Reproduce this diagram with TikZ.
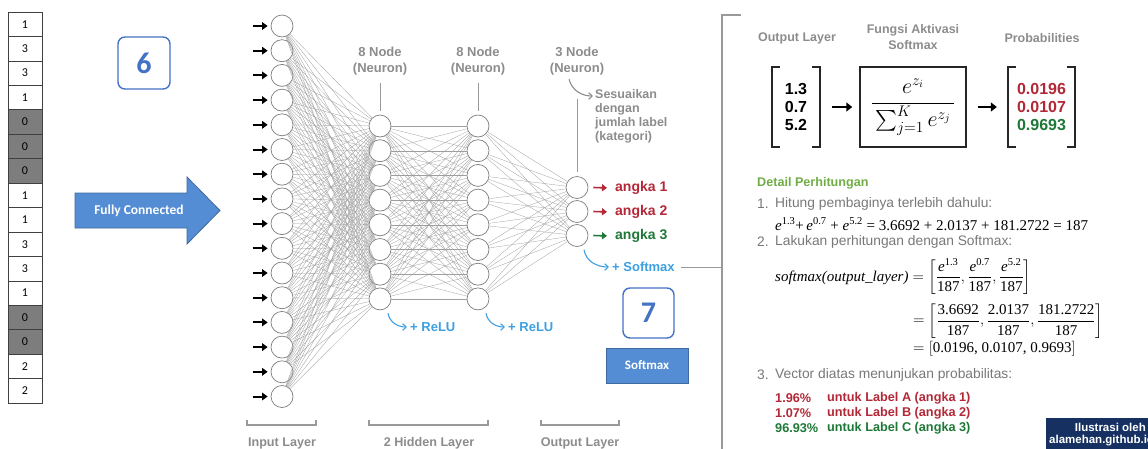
\RequirePackage{fix-cm}
\documentclass[tikz,border=0pt]{standalone}
\usepackage{amsmath}
\usepackage{fontspec}
\setmainfont{Liberation Sans}
\newfontfamily\carl{Carlito}
\newfontfamily\tms{Liberation Serif}
\usetikzlibrary{arrows.meta,calc}
\newcommand{\fsz}[1]{\fontsize{#1}{#1}\selectfont}
\newcommand{\tE}[1]{\text{\tms\itshape e}^{\text{\tms #1}}}
\newcommand{\tN}[1]{\text{\tms #1}}
\definecolor{gtx}{RGB}{140,140,140}
\definecolor{ltx}{RGB}{120,120,120}
\definecolor{nodec}{RGB}{125,125,125}
\definecolor{rd}{RGB}{178,40,55}
\definecolor{gr}{RGB}{30,120,55}
\definecolor{lb}{RGB}{60,160,225}
\definecolor{bboxc}{RGB}{68,114,196}
\definecolor{bfill}{RGB}{84,141,212}
\definecolor{dgreen}{RGB}{112,173,71}
\definecolor{navy}{RGB}{22,48,98}
\definecolor{cellgray}{RGB}{125,125,125}
\begin{document}
\begin{tikzpicture}[x=1pt,y=-1pt,
 cell/.style={draw=black!75,line width=0.6pt,minimum width=34pt,minimum height=24.44pt,inner sep=0pt,font=\carl\fsz{12}},
 numbox/.style={draw=bboxc,line width=1.4pt,rounded corners=7pt,text=bboxc,font=\carl\bfseries\fsz{30},inner sep=0pt},
 neuron/.style={circle,draw=nodec,fill=white,line width=0.7pt,minimum size=22pt,inner sep=0pt},
 conn/.style={draw=black!38,line width=0.3pt},
 gline/.style={draw=black!40,line width=0.8pt},
 inarr/.style={-{Triangle[length=5.5pt,width=7.5pt]},line width=2pt,black},
 bluearr/.style={draw=lb,line width=1.1pt,-{Straight Barb[length=3.5pt,width=6.5pt]}},
 grayarr/.style={draw=gtx,line width=1.1pt,-{Straight Barb[length=3.5pt,width=6.5pt]}},
 outarr/.style={line width=1.6pt,-{Triangle[length=5pt,width=7pt]},shorten >=3pt},
 nlbl/.style={text=gtx,font=\bfseries\fsz{13},align=center,inner sep=0pt},
 bluetxt/.style={text=lb,font=\bfseries\fsz{13},anchor=west,inner sep=0pt},
 angk/.style={font=\bfseries\fsz{14},anchor=west,inner sep=0pt},
 botl/.style={text=gtx,font=\bfseries\fsz{12.6},inner sep=0pt},
 hdr/.style={text=gtx,font=\bfseries\fsz{12.5},align=center,inner sep=0pt},
 brk/.style={line width=2.3pt,black!85},
 barr/.style={-{Triangle[length=6pt,width=9pt]},line width=2.4pt,black},
 lst/.style={text=ltx,font=\fsz{13.8},anchor=west,inner sep=0pt},
 res/.style={font=\bfseries\fsz{12.7},anchor=west,inner sep=0pt},
 mval/.style={font=\bfseries\fontsize{16}{18}\selectfont,align=center,minimum width=48pt,minimum height=80pt,inner sep=0pt}
]
\useasboundingbox (0,0) rectangle (1148,448);

% ---- left column of values
\foreach \v [count=\k] in {1,3,3,1,0,0,0,1,1,3,3,1,0,0,2,2}{
  \ifnum\v=0 \def\cf{cellgray}\else\def\cf{white}\fi
  \node[cell,fill=\cf] (c\k) at (25,{12+(\k-0.5)*24.44}) {\v};
}

% ---- box 6
\node[numbox,minimum width=52pt,minimum height=52pt] (n6) at (144,63) {6};

% ---- fully connected arrow
\draw[fill=bfill,draw=bfill!75!black,line width=0.8pt]
  (75,193) -- (187,193) -- (187,177) -- (220,210.5) -- (187,244) -- (187,228) -- (75,228) -- cycle;
\node[text=white,font=\carl\bfseries\fsz{13.5},inner sep=0pt] (fc) at (139,211) {Fully Connected};

% ---- neurons
\foreach \k in {1,...,16} \node[neuron] (i\k) at (282,{26+(\k-1)*24.7}) {};
\foreach \k in {1,...,8} \node[neuron] (h\k) at (380,{126+(\k-1)*24.7}) {};
\foreach \k in {1,...,8} \node[neuron] (g\k) at (478,{126+(\k-1)*24.7}) {};
\foreach \k in {1,...,3} \node[neuron] (o\k) at (577,{187.5+(\k-1)*24}) {};

% ---- connections
\foreach \a in {1,...,16} \foreach \b in {1,...,8} \draw[conn] (i\a) -- (h\b);
\foreach \a in {1,...,8} \foreach \b in {1,...,8} \draw[conn] (h\a) -- (g\b);
\foreach \a in {1,...,8} \foreach \b in {1,...,3} \draw[conn] (g\a) -- (o\b);

% ---- input arrows
\foreach \k in {1,...,16} \draw[inarr] ($(i\k.west)+(-18,0)$) -- ($(i\k.west)+(-3,0)$);

% ---- top labels
\node[nlbl] (l1) at (380,61) {8 Node\\[3pt](Neuron)};
\node[nlbl] (l2) at (478,61) {8 Node\\[3pt](Neuron)};
\node[nlbl] (l3) at (577,61) {3 Node\\[3pt](Neuron)};
\draw[gline] ($(l1.south)+(0,8)$) -- ($(h1.north)+(0,-4)$);
\draw[gline] ($(l2.south)+(0,8)$) -- ($(g1.north)+(0,-4)$);
\draw[gline] ($(l3.south)+(0,24)$) -- ($(o1.north)+(0,-4)$);
\coordinate (sesa) at (593,96);
\draw[grayarr] ($(l3.south)+(-8,4)$) to[out=-75,in=180] (sesa);
\node[text=gtx,font=\bfseries\fontsize{12.5}{14}\selectfont,align=left,anchor=north west,inner sep=0pt] (ses) at (595,89) {Sesuaikan\\dengan\\jumlah label\\(kategori)};

% ---- outputs
\node[angk,text=rd] (a1) at (615,188) {angka 1};
\node[angk,text=rd] (a2) at (615,212) {angka 2};
\node[angk,text=gr] (a3) at (615,236) {angka 3};
\draw[outarr,rd] ($(o1.east)+(5,0)$) -- ($(a1.west)+(-5,0)$);
\draw[outarr,rd] ($(o2.east)+(5,0)$) -- ($(a2.west)+(-5,0)$);
\draw[outarr,gr] ($(o3.east)+(5,0)$) -- ($(a3.west)+(-5,0)$);

% ---- activations
\node[bluetxt] (sm) at (612,267) {+ Softmax};
\draw[bluearr] ($(o3.south)+(7,3)$) to[out=-80,in=180] ($(sm.west)+(-3,0)$);
\node[bluetxt] (r1) at (410,327) {+ ReLU};
\node[bluetxt] (r2) at (508,327) {+ ReLU};
\draw[bluearr] ($(h8.south)+(8,3)$) to[out=-80,in=180] ($(r1.west)+(-3,0)$);
\draw[bluearr] ($(g8.south)+(8,3)$) to[out=-80,in=180] ($(r2.west)+(-3,0)$);

% ---- panel connector and bracket
\coordinate (pb) at (722,267);
\draw[gline,line width=1pt] ($(sm.east)+(6,0)$) -- (pb);
\draw[gline,line width=1.2pt] (741,15) -- (722,15) -- (722,452);

% ---- box 7 and softmax box
\node[numbox,minimum width=51pt,minimum height=50pt] (n7) at (648.5,313) {7};
\node[draw=bfill!75!black,fill=bfill,minimum width=82pt,minimum height=35pt,text=white,font=\carl\bfseries\fsz{13},inner sep=0pt] (smb) at (647,365.5) {Softmax};

% ---- bottom brackets
\draw[gline,line width=1.1pt] (247,420) -- (247,425) -- (316,425) -- (316,420);
\draw[gline,line width=1.1pt] (369,420) -- (369,425) -- (488,425) -- (488,420);
\draw[gline,line width=1.1pt] (541,420) -- (541,425) -- (619,425) -- (619,420);
\node[botl] (bl1) at (282,443) {Input Layer};
\node[botl] (bl2) at (429,443) {2 Hidden Layer};
\node[botl] (bl3) at (580,443) {Output Layer};

% ---- right panel headers
\node[hdr] (hd1) at (797,38) {Output Layer};
\node[hdr,font=\bfseries\fontsize{12.5}{16}\selectfont] (hd2) at (913,37) {Fungsi Aktivasi\\Softmax};
\node[hdr] (hd3) at (1042,38) {Probabilities};

% ---- matrices and formula
\node[mval] (mL) at (796,107) {1.3\\0.7\\5.2};
\draw[brk] ($(mL.north west)+(8,0)$) -- (mL.north west) -- (mL.south west) -- ($(mL.south west)+(8,0)$);
\draw[brk] ($(mL.north east)+(-8,0)$) -- (mL.north east) -- (mL.south east) -- ($(mL.south east)+(-8,0)$);
\node[draw=black!85,line width=1.5pt,minimum width=106pt,minimum height=80pt,inner sep=0pt,font=\fsz{22}] (fb) at (913,107)
  {$\displaystyle\frac{e^{z_i}}{\,\sum_{j=1}^{K} e^{z_j}\,}$};
\node[mval,minimum width=67pt] (mR) at (1041.5,107) {\textcolor{rd}{0.0196}\\\textcolor{rd}{0.0107}\\\textcolor{gr}{0.9693}};
\draw[brk] ($(mR.north west)+(8,0)$) -- (mR.north west) -- (mR.south west) -- ($(mR.south west)+(8,0)$);
\draw[brk] ($(mR.north east)+(-8,0)$) -- (mR.north east) -- (mR.south east) -- ($(mR.south east)+(-8,0)$);
\draw[barr,shorten <=12pt,shorten >=7pt] (mL.east) -- (fb.west);
\draw[barr,shorten <=11pt,shorten >=11pt] (fb.east) -- (mR.west);

% ---- detail
\node[anchor=west,inner sep=0pt,text=dgreen,font=\bfseries\fsz{12.6}] (dp) at (757,183) {Detail Perhitungan};
\node[lst] (n1) at (757,204) {1.};
\node[lst] (t1) at (775,204) {Hitung pembaginya terlebih dahulu:};
\node[anchor=west,inner sep=0pt,font=\tms\fsz{15}] (e1) at (775,224)
  {\textit{e}\textsuperscript{1.3}+\,\textit{e}\textsuperscript{0.7} + \textit{e}\textsuperscript{5.2} = 3.6692 + 2.0137 + 181.2722 = 187};
\node[lst] (n2) at (757,242) {2.};
\node[lst] (t2) at (775,242) {Lakukan perhitungan dengan Softmax:};
\node[anchor=west,inner sep=0pt,font=\fsz{15}] (e2) at (775,277)
  {$\displaystyle\text{\tms\itshape softmax(output\_layer)} = \biggl[\frac{\tE{1.3}}{\tN{187}},\frac{\tE{0.7}}{\tN{187}},\frac{\tE{5.2}}{\tN{187}}\biggr]$};
\node[anchor=west,inner sep=0pt,font=\fsz{15}] (e3) at (913,321)
  {$\displaystyle=\biggl[\frac{\tN{3.6692}}{\tN{187}},\frac{\tN{2.0137}}{\tN{187}},\frac{\tN{181.2722}}{\tN{187}}\biggr]$};
\node[anchor=west,inner sep=0pt,font=\fsz{15}] (e4) at (913,349)
  {$=\left[\tN{0.0196,\ 0.0107,\ 0.9693}\right]$};
\node[lst] (n3) at (757,375) {3.};
\node[lst] (t3) at (775,375) {Vector diatas menunjukan probabilitas:};
\node[res,text=rd] (p1) at (775,398) {1.96\%};
\node[res,text=rd] (q1) at (827,398) {untuk Label A (angka 1)};
\node[res,text=rd] (p2) at (775,413) {1.07\%};
\node[res,text=rd] (q2) at (827,413) {untuk Label B (angka 2)};
\node[res,text=gr] (p3) at (775,428) {96.93\%};
\node[res,text=gr] (q3) at (827,428) {untuk Label C (angka 3)};

% ---- credit box
\node[fill=navy,anchor=north west,minimum width=110pt,minimum height=34pt,inner sep=0pt] (cb) at (1046,418) {};
\node[anchor=east,inner sep=0pt,text=white,font=\bfseries\fsz{11.5}] (cr1) at (1146,427) {Ilustrasi oleh};
\node[anchor=west,inner sep=0pt,text=white,font=\bfseries\fsz{11.5}] (cr2) at (1049,441) {alamehan.github.io};
\end{tikzpicture}
\end{document}
